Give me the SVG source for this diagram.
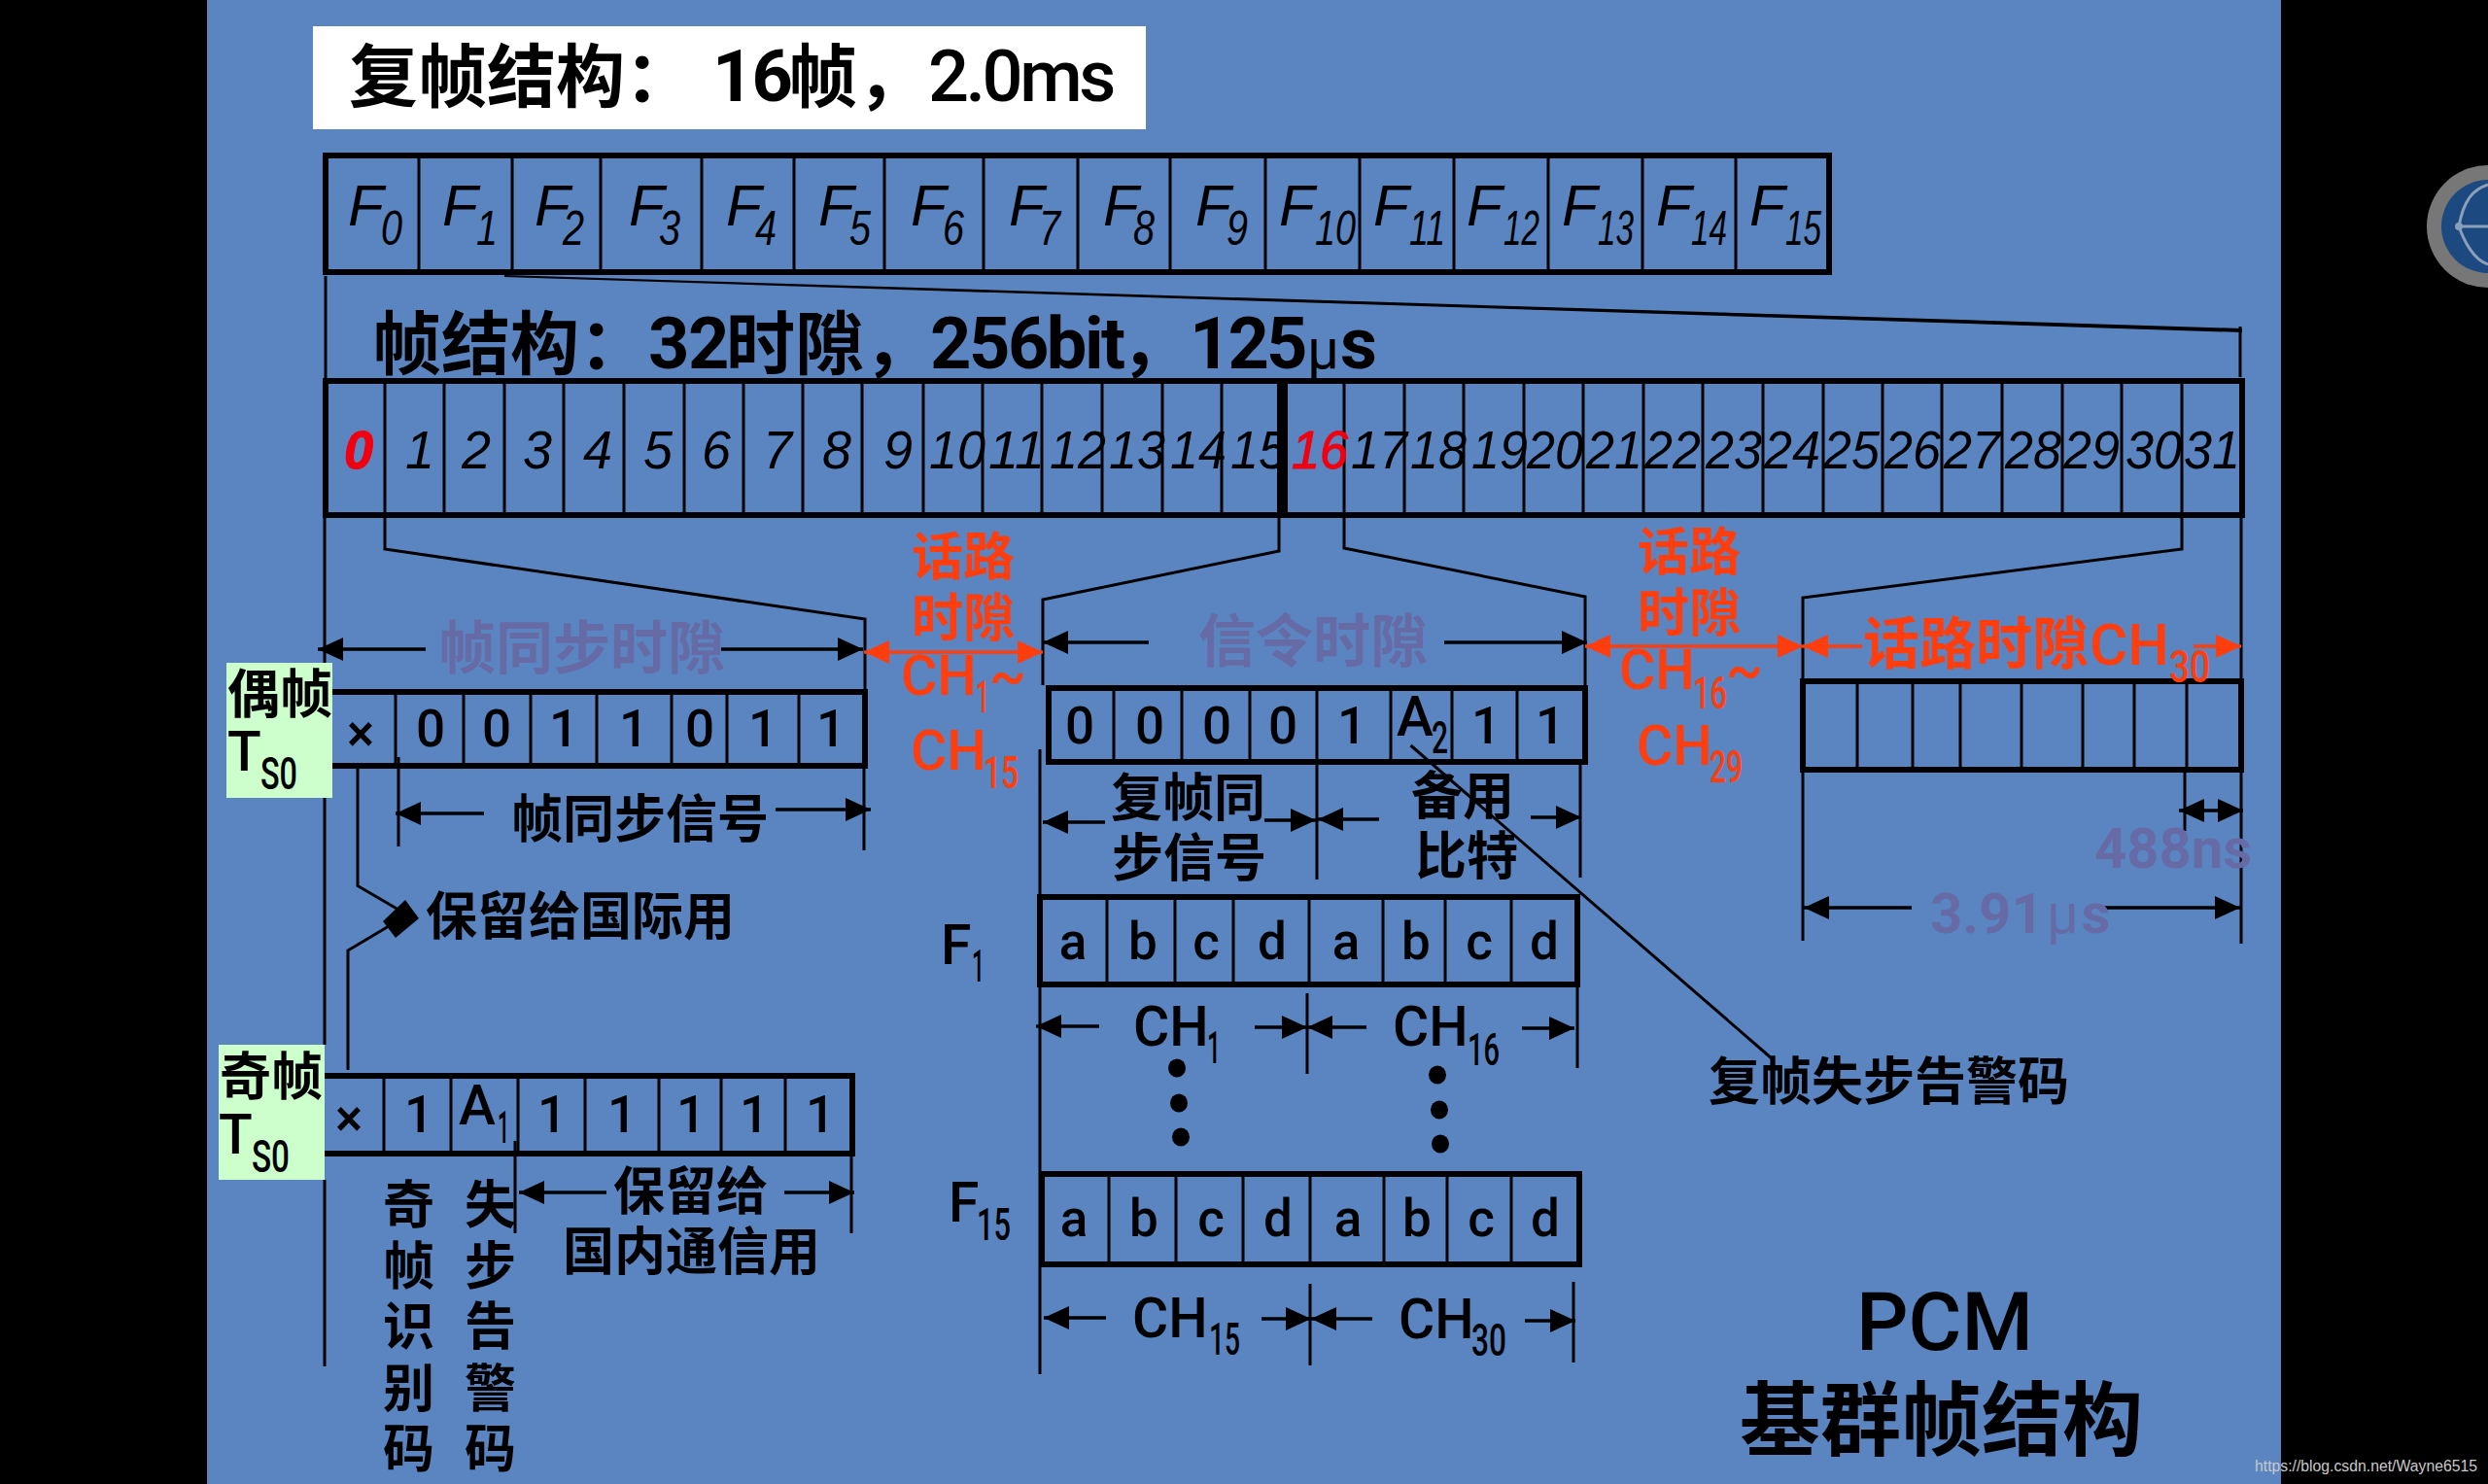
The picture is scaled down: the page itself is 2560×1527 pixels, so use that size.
<svg xmlns="http://www.w3.org/2000/svg" width="2560" height="1527" viewBox="0 0 2560 1527">
<style>
text{font-family:Roboto,"Noto Sans CJK SC",sans-serif;fill:#000}
.cj{font-size:53px;font-weight:700}
.n{font-size:53px;font-weight:500}
.s{font-size:46px;font-weight:500}
.f{font-size:57px;font-weight:500}
.h{font-size:71px;font-weight:700}
.i{font-family:"Liberation Sans","Noto Sans CJK SC",sans-serif;font-style:italic;font-size:60px}
.is{font-family:"Liberation Sans","Noto Sans CJK SC",sans-serif;font-style:italic;font-size:50px}
.d{font-family:"Liberation Sans","Noto Sans CJK SC",sans-serif;font-style:italic;font-size:56px}
.red{fill:#f00010;stroke:#f00010;stroke-width:1.2}
.r{fill:#ff3d0d}
.g{fill:#666ba6;font-weight:700;font-size:59px}
.box{fill:none;stroke:#000;stroke-width:6}
.div{stroke:#000;stroke-width:3}
.ln{stroke:#000;stroke-width:3;fill:none}
.ar{stroke:#000;stroke-width:3.5;fill:none;marker-end:url(#a)}
.rr{stroke:#ff3d0d;stroke-width:3.5;fill:none;marker-end:url(#ra)}
.rd{stroke:#ff3d0d;stroke-width:3.5;fill:none;marker-start:url(#ra);marker-end:url(#ra)}
.lab{fill:#ccffcc}
</style>
<defs>
<marker id="a" viewBox="0 0 26 24" refX="26" refY="12" markerWidth="26" markerHeight="24" markerUnits="userSpaceOnUse" orient="auto-start-reverse"><path d="M0,0L26,12L0,24z" fill="#000"/></marker>
<marker id="ra" viewBox="0 0 26 24" refX="26" refY="12" markerWidth="26" markerHeight="24" markerUnits="userSpaceOnUse" orient="auto-start-reverse"><path d="M0,0L26,12L0,24z" fill="#ff3d0d"/></marker>
</defs>
<rect width="2560" height="1527" fill="#000"/>
<rect x="213" width="2134" height="1527" fill="#5b85c1"/>
<g id="badge">
<circle cx="2560" cy="233" r="63" fill="#777"/>
<circle cx="2560" cy="233" r="48" fill="#1c4a80"/>
<path d="M2530,233C2535,205 2545,195 2560,190M2530,233C2538,255 2548,268 2560,272M2530,233H2560" stroke="#8aa0b8" stroke-width="3" fill="none"/>
<circle cx="2530" cy="233" r="4" fill="#8aa0b8"/>
</g>

<g id="connectors">
<path class="ln" d="M335,284V390"/>
<path d="M519,283L2307,338L2307,342L519,285z" fill="#000"/>
<path class="ln" d="M2305,336V388"/>
<path class="ln" d="M334,531V682M334,821V1075M334,1214V1406"/>
<path class="ln" d="M396,531V565L890,637V712"/>
<path class="ln" d="M1316,531V567L1073,617V705"/>
<path class="ln" d="M1070,771V1414"/>
<path class="ln" d="M1383,531V564L1631,614V705"/>
<path class="ln" d="M2245,531V565L1855,615V699"/>
<path class="ln" d="M1855,793V968"/>
<path class="ln" d="M2306,531V699M2306,793V971"/>
<line class="ar" x1="438" y1="668" x2="327" y2="668"/>
<line class="ar" x1="742" y1="668" x2="888" y2="668"/>
<line class="rd" x1="889" y1="671" x2="1073" y2="671"/>
<line class="ar" x1="1182" y1="661" x2="1073" y2="661"/>
<line class="ar" x1="1486" y1="661" x2="1633" y2="661"/>
<line class="rd" x1="1631" y1="665" x2="1855" y2="665"/>
<line class="rr" x1="1916" y1="665" x2="1855" y2="665"/>
<line class="rr" x1="2257" y1="665" x2="2306" y2="665"/>
<path class="ln" d="M889,788V875M410,779V871"/>
<line class="ar" x1="498" y1="837" x2="407" y2="837"/>
<line class="ar" x1="798" y1="833" x2="896" y2="833"/>
<polyline class="ln" points="368,788 368,911.5 410,936"/>
<polyline class="ln" points="358,1101 358,978 405,950"/>
<path d="M394,948L417,926L431,945L407,965z" fill="#000"/>
<path class="ln" d="M530,1174V1269M876,1187V1269"/>
<line class="ar" x1="624" y1="1227" x2="534" y2="1227"/>
<line class="ar" x1="807" y1="1227" x2="879" y2="1227"/>
<path class="ln" d="M1355,785V905M1626,785V903"/>
<line class="ar" x1="1137" y1="846" x2="1073" y2="846"/>
<line class="ar" x1="1301" y1="844" x2="1354" y2="844"/>
<line class="ar" x1="1419" y1="843" x2="1356" y2="843"/>
<line class="ar" x1="1575" y1="841" x2="1627" y2="841"/>
<line class="ln" x1="1451.5" y1="767" x2="1824" y2="1090"/>
<path class="ln" d="M1345,1022V1105M1623,1013V1099"/>
<line class="ar" x1="1131" y1="1056" x2="1066" y2="1056"/>
<line class="ar" x1="1291" y1="1057" x2="1345" y2="1057"/>
<line class="ar" x1="1406" y1="1057" x2="1345" y2="1057"/>
<line class="ar" x1="1566" y1="1058" x2="1620" y2="1058"/>
<path class="ln" d="M1348,1321V1405M1619,1319V1402"/>
<line class="ar" x1="1138" y1="1356" x2="1074" y2="1356"/>
<line class="ar" x1="1298" y1="1357" x2="1349" y2="1357"/>
<line class="ar" x1="1412" y1="1357" x2="1349" y2="1357"/>
<line class="ar" x1="1569" y1="1359" x2="1621" y2="1359"/>
<path class="ln" d="M2248,793V855"/>
<line class="ar" x1="2275" y1="834" x2="2242" y2="834"/>
<line class="ar" x1="2275" y1="834" x2="2308" y2="834"/>
<line class="ar" x1="1967" y1="934" x2="1856" y2="934"/>
<line class="ar" x1="2165" y1="934" x2="2305" y2="934"/>
</g>

<g id="title-multiframe">
<rect x="322" y="27" width="857" height="106" fill="#fff"/>
<text class="h" y="104"><tspan x="359">复帧结构：</tspan><tspan x="733" font-size="74" letter-spacing="-2">16</tspan><tspan x="811">帧，</tspan><tspan x="955" font-size="74" letter-spacing="-3.5" font-weight="500">2.0ms</tspan></text>
</g>

<g id="multiframe-row">
<rect class="box" x="335" y="160" width="1547" height="120"/>
<path class="div" d="M431,160V280M527,160V280M618,160V280M722,160V280M817,160V280M910,160V280M1012,160V280M1109,160V280M1204,160V280M1302,160V280M1399,160V280M1496,160V280M1593,160V280M1690,160V280M1786,160V280"/>
<text class="i" x="358" y="232">F</text><text class="is" x="392" y="252" textLength="22" lengthAdjust="spacingAndGlyphs">0</text>
<text class="i" x="455" y="232">F</text><text class="is" x="490" y="252" textLength="22" lengthAdjust="spacingAndGlyphs">1</text>
<text class="i" x="550" y="232">F</text><text class="is" x="579" y="252" textLength="22" lengthAdjust="spacingAndGlyphs">2</text>
<text class="i" x="647" y="232">F</text><text class="is" x="678" y="252" textLength="22" lengthAdjust="spacingAndGlyphs">3</text>
<text class="i" x="747" y="232">F</text><text class="is" x="777" y="252" textLength="22" lengthAdjust="spacingAndGlyphs">4</text>
<text class="i" x="842" y="232">F</text><text class="is" x="874" y="252" textLength="22" lengthAdjust="spacingAndGlyphs">5</text>
<text class="i" x="937" y="232">F</text><text class="is" x="970" y="252" textLength="22" lengthAdjust="spacingAndGlyphs">6</text>
<text class="i" x="1038" y="232">F</text><text class="is" x="1069" y="252" textLength="22" lengthAdjust="spacingAndGlyphs">7</text>
<text class="i" x="1135" y="232">F</text><text class="is" x="1166" y="252" textLength="22" lengthAdjust="spacingAndGlyphs">8</text>
<text class="i" x="1230" y="232">F</text><text class="is" x="1262" y="252" textLength="22" lengthAdjust="spacingAndGlyphs">9</text>
<text class="i" x="1316" y="232">F</text><text class="is" x="1353" y="252" textLength="42" lengthAdjust="spacingAndGlyphs">10</text>
<text class="i" x="1413" y="232">F</text><text class="is" x="1450" y="252" textLength="37" lengthAdjust="spacingAndGlyphs">11</text>
<text class="i" x="1509" y="232">F</text><text class="is" x="1547" y="252" textLength="37" lengthAdjust="spacingAndGlyphs">12</text>
<text class="i" x="1607" y="232">F</text><text class="is" x="1644" y="252" textLength="37" lengthAdjust="spacingAndGlyphs">13</text>
<text class="i" x="1704" y="232">F</text><text class="is" x="1740" y="252" textLength="37" lengthAdjust="spacingAndGlyphs">14</text>
<text class="i" x="1800" y="232">F</text><text class="is" x="1837" y="252" textLength="37" lengthAdjust="spacingAndGlyphs">15</text>
</g>

<g id="title-frame">
<text class="h" y="379"><tspan x="383">帧结构：</tspan><tspan x="667" font-size="74" letter-spacing="-1.5">32</tspan><tspan x="747">时隙，</tspan><tspan x="957" font-size="74" letter-spacing="-2.5">256bit</tspan><tspan x="1153">，</tspan><tspan x="1224" font-size="74" letter-spacing="-3">125</tspan><tspan x="1345" font-size="58" font-weight="400">μ</tspan><tspan x="1379" font-size="74">s</tspan></text>
</g>

<g id="frame-row">
<rect class="box" x="335" y="392" width="982" height="138"/>
<rect class="box" x="1322" y="392" width="985" height="138"/>
<path class="div" d="M396,392V530M457,392V530M519,392V530M580,392V530M642,392V530M704,392V530M765,392V530M826,392V530M887,392V530M950,392V530M1011,392V530M1072,392V530M1134,392V530M1196,392V530M1257,392V530M1383,392V530M1445,392V530M1506,392V530M1568,392V530M1629,392V530M1691,392V530M1752,392V530M1814,392V530M1876,392V530M1937,392V530M1998,392V530M2060,392V530M2122,392V530M2183,392V530M2245,392V530"/>
<text class="d red" x="354" y="482" textLength="30" lengthAdjust="spacingAndGlyphs" font-weight="700">0</text>
<text class="d" x="417" y="482" textLength="30" lengthAdjust="spacingAndGlyphs">1</text><text class="d" x="475" y="482" textLength="30" lengthAdjust="spacingAndGlyphs">2</text><text class="d" x="538" y="482" textLength="30" lengthAdjust="spacingAndGlyphs">3</text><text class="d" x="600" y="482" textLength="30" lengthAdjust="spacingAndGlyphs">4</text><text class="d" x="662" y="482" textLength="30" lengthAdjust="spacingAndGlyphs">5</text><text class="d" x="722" y="482" textLength="30" lengthAdjust="spacingAndGlyphs">6</text><text class="d" x="785" y="482" textLength="30" lengthAdjust="spacingAndGlyphs">7</text><text class="d" x="846" y="482" textLength="30" lengthAdjust="spacingAndGlyphs">8</text><text class="d" x="909" y="482" textLength="30" lengthAdjust="spacingAndGlyphs">9</text>
<text class="d" x="956" y="482" textLength="58" lengthAdjust="spacingAndGlyphs">10</text><text class="d" x="1017" y="482" textLength="58" lengthAdjust="spacingAndGlyphs">11</text><text class="d" x="1080" y="482" textLength="58" lengthAdjust="spacingAndGlyphs">12</text><text class="d" x="1141" y="482" textLength="58" lengthAdjust="spacingAndGlyphs">13</text><text class="d" x="1204" y="482" textLength="58" lengthAdjust="spacingAndGlyphs">14</text><text class="d" x="1266" y="482" textLength="58" lengthAdjust="spacingAndGlyphs">15</text>
<text class="d red" x="1329" y="482" textLength="58" lengthAdjust="spacingAndGlyphs">16</text>
<text class="d" x="1390" y="482" textLength="58" lengthAdjust="spacingAndGlyphs">17</text><text class="d" x="1451" y="482" textLength="58" lengthAdjust="spacingAndGlyphs">18</text><text class="d" x="1514" y="482" textLength="58" lengthAdjust="spacingAndGlyphs">19</text><text class="d" x="1571" y="482" textLength="58" lengthAdjust="spacingAndGlyphs">20</text><text class="d" x="1632" y="482" textLength="58" lengthAdjust="spacingAndGlyphs">21</text><text class="d" x="1692" y="482" textLength="58" lengthAdjust="spacingAndGlyphs">22</text><text class="d" x="1755" y="482" textLength="58" lengthAdjust="spacingAndGlyphs">23</text><text class="d" x="1815" y="482" textLength="58" lengthAdjust="spacingAndGlyphs">24</text><text class="d" x="1876" y="482" textLength="58" lengthAdjust="spacingAndGlyphs">25</text><text class="d" x="1939" y="482" textLength="58" lengthAdjust="spacingAndGlyphs">26</text><text class="d" x="2000" y="482" textLength="58" lengthAdjust="spacingAndGlyphs">27</text><text class="d" x="2063" y="482" textLength="58" lengthAdjust="spacingAndGlyphs">28</text><text class="d" x="2123" y="482" textLength="58" lengthAdjust="spacingAndGlyphs">29</text><text class="d" x="2187" y="482" textLength="58" lengthAdjust="spacingAndGlyphs">30</text><text class="d" x="2247" y="482" textLength="58" lengthAdjust="spacingAndGlyphs">31</text>
</g>

<g id="even-ts0">
<rect class="lab" x="233" y="682" width="109" height="139"/>
<text class="cj" x="234" y="734" style="font-size:54px">偶帧</text>
<text class="f" x="234" y="793">T</text><text class="s" x="268" y="812" textLength="38" lengthAdjust="spacingAndGlyphs">S0</text>
<path class="box" d="M342,712H890V788H342" />
<path class="div" d="M407,712V788M477,712V788M546,712V788M614,712V788M691,712V788M748,712V788M822,712V788"/>
<g text-anchor="middle">
<text class="n" x="371" y="773">×</text>
<text class="n" x="443" y="768">0</text><text class="n" x="511" y="768">0</text><text class="n" x="580" y="768">1</text><text class="n" x="652" y="768">1</text><text class="n" x="720" y="768">0</text><text class="n" x="785" y="768">1</text><text class="n" x="855" y="768">1</text>
</g>
</g>

<g id="odd-ts0">
<rect class="lab" x="225" y="1075" width="109" height="139"/>
<text class="cj" x="226" y="1127">奇帧</text>
<text class="f" x="225" y="1187">T</text><text class="s" x="259" y="1206" textLength="39" lengthAdjust="spacingAndGlyphs">S0</text>
<path class="box" d="M334,1107H877V1187H334"/>
<path class="div" d="M395,1107V1187M464,1107V1187M533,1107V1187M602,1107V1187M678,1107V1187M742,1107V1187M808,1107V1187"/>
<g text-anchor="middle">
<text class="n" x="359" y="1169">×</text><text class="n" x="431" y="1165">1</text>
<text class="n" x="568" y="1165">1</text><text class="n" x="640" y="1165">1</text><text class="n" x="711" y="1165">1</text><text class="n" x="776" y="1165">1</text><text class="n" x="844" y="1165">1</text>
</g>
<text class="f" x="472" y="1157">A</text><text class="s" x="512" y="1176" textLength="12" lengthAdjust="spacingAndGlyphs">1</text>
</g>

<g id="signal-box">
<rect class="box" x="1079" y="708" width="552" height="76"/>
<path class="div" d="M1146,708V784M1216,708V784M1286,708V784M1355,708V784M1431,708V784M1494,708V784M1561,708V784"/>
<g text-anchor="middle"><text class="n" x="1111" y="765">0</text><text class="n" x="1183" y="765">0</text><text class="n" x="1252" y="765">0</text><text class="n" x="1320" y="765">0</text><text class="n" x="1391" y="765">1</text><text class="n" x="1529" y="765">1</text><text class="n" x="1595" y="765">1</text></g>
<text class="f" x="1437" y="757">A</text><text class="s" x="1473" y="775" textLength="17" lengthAdjust="spacingAndGlyphs">2</text>
</g>

<g id="f1-box">
<rect class="box" x="1070" y="923" width="553" height="90"/>
<path class="div" d="M1139,923V1013M1209,923V1013M1269,923V1013M1347,923V1013M1423,923V1013M1487,923V1013M1555,923V1013"/>
<g text-anchor="middle"><text class="n" x="1104" y="987">a</text><text class="n" x="1176" y="987">b</text><text class="n" x="1241" y="987">c</text><text class="n" x="1309" y="987">d</text><text class="n" x="1385" y="987">a</text><text class="n" x="1457" y="987">b</text><text class="n" x="1522" y="987">c</text><text class="n" x="1589" y="987">d</text></g>
<text class="f" x="968" y="992">F</text><text class="s" x="1000" y="1010" textLength="13" lengthAdjust="spacingAndGlyphs">1</text>
</g>

<g id="f15-box">
<rect class="box" x="1072" y="1208" width="553" height="93"/>
<path class="div" d="M1141,1208V1301M1210,1208V1301M1279,1208V1301M1348,1208V1301M1424,1208V1301M1489,1208V1301M1555,1208V1301"/>
<g text-anchor="middle"><text class="n" x="1105" y="1272">a</text><text class="n" x="1177" y="1272">b</text><text class="n" x="1246" y="1272">c</text><text class="n" x="1315" y="1272">d</text><text class="n" x="1387" y="1272">a</text><text class="n" x="1458" y="1272">b</text><text class="n" x="1524" y="1272">c</text><text class="n" x="1590" y="1272">d</text></g>
<text class="f" x="976" y="1257">F</text><text class="s" x="1005" y="1276" textLength="35" lengthAdjust="spacingAndGlyphs">15</text>
</g>

<g id="voice-box">
<rect class="box" x="1855" y="701" width="451" height="91"/>
<path class="div" d="M1911,701V792M1968,701V792M2017,701V792M2080,701V792M2143,701V792M2196,701V792M2250,701V792"/>
</g>

<g id="labels">
<text class="g" x="451" y="688">帧同步时隙</text>
<text class="g" x="1233" y="681">信令时隙</text>
<g id="voice-ch1"><text class="r cj" x="938" y="592">话路</text><text class="r cj" x="938" y="655">时隙</text>
<text class="r f" x="927" y="715">CH</text><text class="r s" x="1004" y="733" textLength="14" lengthAdjust="spacingAndGlyphs">1</text><text class="r f" x="1018" y="715">~</text>
<text class="r f" x="937" y="792">CH</text><text class="r s" x="1012" y="811" textLength="36" lengthAdjust="spacingAndGlyphs">15</text></g>
<g id="voice-ch16"><text class="r cj" x="1685" y="587">话路</text><text class="r cj" x="1685" y="650">时隙</text>
<text class="r f" x="1666" y="709">CH</text><text class="r s" x="1742" y="729" textLength="35" lengthAdjust="spacingAndGlyphs">16</text><text class="r f" x="1776" y="709">~</text>
<text class="r f" x="1684" y="787">CH</text><text class="r s" x="1759" y="805" textLength="34" lengthAdjust="spacingAndGlyphs">29</text></g>
<g id="voice-ch30"><text class="r" font-size="58" font-weight="700" x="1917" y="683">话路时隙</text><text class="r" font-size="60" font-weight="500" x="2150" y="684">CH</text><text class="r s" x="2232" y="702" textLength="42" lengthAdjust="spacingAndGlyphs">30</text></g>
<text class="cj" x="526" y="862">帧同步信号</text>
<text class="cj" x="438" y="962">保留给国际用</text>
<text class="cj" x="631" y="1245">保留给</text>
<text class="cj" x="579" y="1307">国内通信用</text>
<text class="cj" x="394" y="1259">奇</text><text class="cj" x="394" y="1322">帧</text><text class="cj" x="394" y="1384">识</text><text class="cj" x="394" y="1448">别</text><text class="cj" x="394" y="1510">码</text>
<text class="cj" x="478" y="1259">失</text><text class="cj" x="478" y="1322">步</text><text class="cj" x="478" y="1384">告</text><text class="cj" x="478" y="1448">警</text><text class="cj" x="478" y="1510">码</text>
<text class="cj" x="1143" y="840">复帧同</text><text class="cj" x="1144" y="902">步信号</text>
<text class="cj" x="1452" y="838">备用</text><text class="cj" x="1456" y="900">比特</text>
<text class="f" x="1166" y="1076">CH</text><text class="s" x="1242" y="1094" textLength="14" lengthAdjust="spacingAndGlyphs">1</text>
<text class="f" x="1433" y="1076">CH</text><text class="s" x="1510" y="1096" textLength="33" lengthAdjust="spacingAndGlyphs">16</text>
<text class="f" x="1165" y="1376">CH</text><text class="s" x="1244" y="1394" textLength="32" lengthAdjust="spacingAndGlyphs">15</text>
<text class="f" x="1439" y="1377">CH</text><text class="s" x="1514" y="1395" textLength="36" lengthAdjust="spacingAndGlyphs">30</text>
<g id="dots"><ellipse cx="1211" cy="1099" rx="9" ry="9.5"/><ellipse cx="1213" cy="1135" rx="9" ry="9.5"/><ellipse cx="1215" cy="1170" rx="9" ry="9.5"/><ellipse cx="1479" cy="1106" rx="9" ry="9.5"/><ellipse cx="1481" cy="1142" rx="9" ry="9.5"/><ellipse cx="1482" cy="1177" rx="9" ry="9.5"/></g>
<text class="g" x="2155" y="893" style="font-size:58px">488ns</text>
<text class="g" x="1986" y="960" style="font-size:58px">3.91<tspan font-weight="400" dx="3">μ</tspan><tspan dx="3">s</tspan></text>
<text class="cj" x="1758" y="1132">复帧失步告警码</text>
<text x="1910" y="1389" font-size="84" font-weight="500">PCM</text>
<text x="1790" y="1491" font-size="83" font-weight="700">基群帧结构</text>
<text x="2320" y="1514" font-size="16" style="font-family:'Liberation Sans',sans-serif;fill:#c8c8c8" textLength="229" lengthAdjust="spacingAndGlyphs">https://blog.csdn.net/Wayne6515</text>
</g>
</svg>
